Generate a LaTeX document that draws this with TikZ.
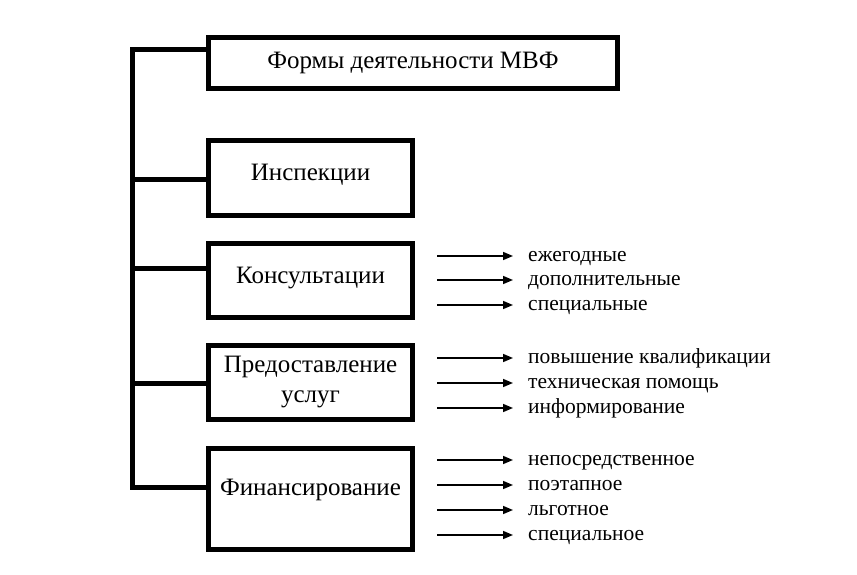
\documentclass[tikz,border=0pt]{standalone}
\usepackage{fontspec}
\setmainfont{Liberation Serif}
\usetikzlibrary{arrows.meta}
\begin{document}
\begin{tikzpicture}[x=1pt,y=-1pt,
  box/.style={draw=black,line width=5pt,inner sep=0pt,align=center,font=\fontsize{25}{30}\selectfont},
  link/.style={line width=5pt},
  arr/.style={line width=1.6pt,-{Triangle[length=10pt,width=8pt]}},
  lbl/.style={anchor=base west,inner sep=0pt,font=\fontsize{21.5}{25}\selectfont}]
\useasboundingbox (0,0) rectangle (857,574);
\node[box,minimum width=409pt,minimum height=51pt] (top) at (413,63) {Формы деятельности МВФ};
\node[box,minimum width=204pt,minimum height=75pt,text height=17pt,text depth=12pt] (insp) at (310.5,178) {Инспекции};
\node[box,minimum width=204pt,minimum height=74pt,text height=17pt,text depth=12pt] (cons) at (310.5,280.5) {Консультации};
\node[box,minimum width=204pt,minimum height=74pt] (serv) at (310.5,382.5) {Предоставление\\услуг};
\node[box,minimum width=204pt,minimum height=101pt,text height=17pt,text depth=24pt] (fin) at (310.5,499) {Финансирование};
\coordinate (t0) at (132,49);
\coordinate (t1) at (132,179);
\coordinate (t2) at (132,268);
\coordinate (t3) at (132,383);
\coordinate (t4) at (132,487);
\draw[link] (top.west |- t0) -- (t0) -- (t4) -- (fin.west |- t4);
\draw[link] (t1) -- (insp.west |- t1);
\draw[link] (t2) -- (cons.west |- t2);
\draw[link] (t3) -- (serv.west |- t3);
\foreach \y/\n/\t in {256/a1/ежегодные,280/a2/дополнительные,305/a3/специальные,
  358/b1/повышение квалификации,383/b2/техническая помощь,408/b3/информирование,
  460/c1/непосредственное,485/c2/поэтапное,510/c3/льготное,535/c4/специальное}{
  \coordinate (s\n) at (437,\y);
  \node[lbl] (\n) at (528,\y+5) {\t};
  \draw[arr] (s\n) -- (s\n -| 513,0);
}
\end{tikzpicture}
\end{document}
